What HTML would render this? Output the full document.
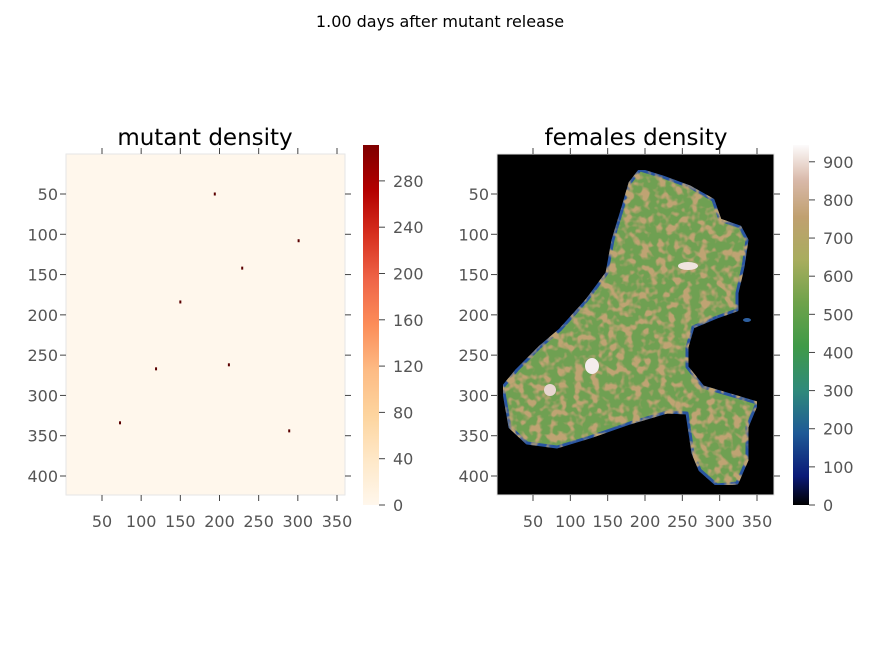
<!DOCTYPE html>
<html><head><meta charset="utf-8"><style>
body{margin:0;background:#fff;width:879px;height:651px;overflow:hidden;font-family:"Liberation Sans","DejaVu Sans",sans-serif}
svg text{font-family:"DejaVu Sans","Liberation Sans",sans-serif}
</style></head><body>
<svg id="fig" width="879" height="651" xmlns="http://www.w3.org/2000/svg">
<defs>
<linearGradient id="orrd" x1="0" y1="1" x2="0" y2="0">
<stop offset="0" stop-color="#fff7ec"/><stop offset="0.125" stop-color="#fee8c8"/><stop offset="0.25" stop-color="#fdd49e"/><stop offset="0.375" stop-color="#fdbb84"/><stop offset="0.5" stop-color="#fc8d59"/><stop offset="0.625" stop-color="#ef6548"/><stop offset="0.75" stop-color="#d7301f"/><stop offset="0.875" stop-color="#b30000"/><stop offset="1" stop-color="#7f0000"/>
</linearGradient>
<linearGradient id="earth" x1="0" y1="1" x2="0" y2="0">
<stop offset="0" stop-color="#000000"/><stop offset="0.08" stop-color="#0b1a78"/><stop offset="0.2" stop-color="#1f5a96"/><stop offset="0.32" stop-color="#2f8a7a"/><stop offset="0.44" stop-color="#3f9a48"/><stop offset="0.56" stop-color="#6ea24a"/><stop offset="0.68" stop-color="#a8ad5e"/><stop offset="0.8" stop-color="#c0a070"/><stop offset="0.9" stop-color="#d8b8a8"/><stop offset="1" stop-color="#fdfbfb"/>
</linearGradient>
<filter id="tex" x="0" y="0" width="100%" height="100%" color-interpolation-filters="sRGB">
<feTurbulence type="fractalNoise" baseFrequency="0.12" numOctaves="2" seed="4" result="n"/>
<feColorMatrix in="n" type="matrix" values="0 0 0 0 0.75  0 0 0 0 0.64  0 0 0 0 0.45  0 0 0 5 -2.3" result="t"/>
<feComposite in="t" in2="SourceGraphic" operator="in" result="tt"/>
<feMerge><feMergeNode in="SourceGraphic"/><feMergeNode in="tt"/></feMerge>
</filter>
</defs>
<text x="440" y="27" font-size="16" text-anchor="middle" fill="#000">1.00 days after mutant release</text>

<text x="205" y="145" font-size="23" text-anchor="middle">mutant density</text>
<rect x="66" y="154" width="279" height="341" fill="#fff7ec" stroke="#e6e6e6"/>
<g id="specks"></g>
<rect x="363" y="145" width="16" height="360" fill="url(#orrd)"/>

<text x="636" y="145" font-size="23" text-anchor="middle">females density</text>
<rect x="497" y="154" width="277" height="341" fill="#000"/>
<g filter="url(#tex)">
<polygon points="640,170 663,177 690,187 713,200 720,220 740,227 747,240 743,267 737,293 737,310 717,317 693,327 687,347 687,367 703,387 737,397 757,403 747,427 747,460 737,483 717,485 700,470 693,453 687,413 667,412 630,423 590,437 557,447 527,443 510,427 503,387 517,370 540,347 560,330 587,300 607,273 613,240 623,207 630,183" fill="#6fa052" stroke="#2a55a0" stroke-width="3" stroke-linejoin="round"/>
</g>
<ellipse cx="747" cy="320" rx="4" ry="2" fill="#2d5fa0"/>
<ellipse cx="592" cy="366" rx="7" ry="8" fill="#f4ecec"/>
<ellipse cx="550" cy="390" rx="6" ry="6" fill="#e8d6d0"/>
<ellipse cx="688" cy="266" rx="10" ry="4" fill="#f0e4e0"/>
<rect x="497" y="154" width="277" height="341" fill="none" stroke="#e6e6e6"/>
<rect x="793" y="145" width="16" height="360" fill="url(#earth)"/>
<g id="ticks" font-size="16" fill="#555"></g>
</svg>
<script>
const xTicks=[50,100,150,200,250,300,350];
const yTicks=[50,100,150,200,250,300,350,400];
const leftCbTicks=[0,40,80,120,160,200,240,280];
const rightCbTicks=[0,100,200,300,400,500,600,700,800,900];
const speckX=[194,301,229,150,119,212,73,289];
const speckY=[50,108,142,184,267,262,334,344];
const leftCbMax=311, rightCbMax=944;
const NS="http://www.w3.org/2000/svg";
function xL(v){return 102+(v-50)*0.7833;}
function xR(v){return 533+(v-50)*0.7467;}
function yA(v){return 194+(v-50)*0.8057;}
function cbY(v,max){return 505-v/max*360;}
const g=document.getElementById('ticks');
function line(x1,y1,x2,y2){const l=document.createElementNS(NS,'line');l.setAttribute('x1',x1);l.setAttribute('y1',y1);l.setAttribute('x2',x2);l.setAttribute('y2',y2);l.setAttribute('stroke','#444');l.setAttribute('stroke-width','1');g.appendChild(l);return l;}
function text(x,y,s,anchor){const t=document.createElementNS(NS,'text');t.setAttribute('x',x);t.setAttribute('y',y);t.setAttribute('text-anchor',anchor);t.textContent=s;g.appendChild(t);return t;}
[[xL,66,345],[xR,497,774]].forEach(([fx,l,r])=>{
 xTicks.forEach(v=>{const x=fx(v);line(x,154,x,148);line(x,495,x,501);
  const t=text(x,527,v,'middle');
  
  });
 yTicks.forEach(v=>{const y=yA(v);line(l,y,l-6,y);line(r,y,r+6,y);
  const t=text(l-8,y+6,v,'end');
  
  });
});
leftCbTicks.forEach(v=>{const y=cbY(v,leftCbMax);line(379,y,385,y);
 const t=text(393,y+6,v,'start');
 
 });
rightCbTicks.forEach(v=>{const y=cbY(v,rightCbMax);line(809,y,815,y);
 const t=text(823,y+6,v,'start');
 
 });
const sp=document.getElementById('specks');
speckX.forEach((v,i)=>{const r=document.createElementNS(NS,'rect');
 r.setAttribute('x',xL(v)-1);r.setAttribute('y',yA(speckY[i])-1.5);r.setAttribute('width',2);r.setAttribute('height',3);r.setAttribute('fill','#5a0000');
 
 
 sp.appendChild(r);});
</script>
</body></html>
